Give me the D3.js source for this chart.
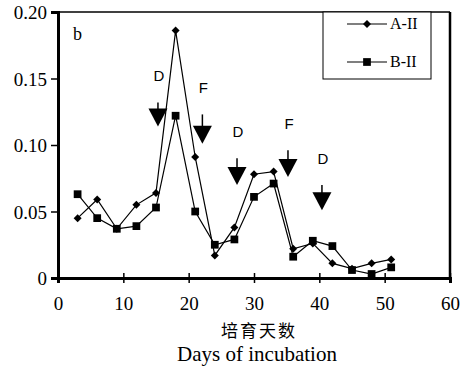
<!DOCTYPE html>
<html>
<head>
<meta charset="utf-8">
<script src="https://cdn.jsdelivr.net/npm/d3@7"></script>
<style>
  body { margin: 0; background: #fff; }
  svg { display: block; }
  .serif { font-family: "Liberation Serif", "DejaVu Serif", serif; }
</style>
</head>
<body>
<script>
// days of incubation
var days = [3, 6, 9, 12, 15, 18, 21, 24, 27, 30, 33, 36, 39, 42, 45, 48, 51];
var seriesA = [0.045, 0.059, 0.037, 0.055, 0.064, 0.186, 0.091, 0.017, 0.038, 0.078, 0.080, 0.022, 0.026, 0.011, 0.007, 0.011, 0.014];
var seriesB = [0.063, 0.045, 0.037, 0.039, 0.053, 0.122, 0.050, 0.025, 0.029, 0.061, 0.071, 0.016, 0.028, 0.024, 0.006, 0.003, 0.008];
var xTicks = [0, 10, 20, 30, 40, 50, 60];
var yTicks = [0, 0.05, 0.10, 0.15, 0.20];
var yTickLabels = ["0", "0.05", "0.10", "0.15", "0.20"];
// arrows: label, x, top, tip
var arrowLabels = ["D", "F", "D", "F", "D"];
var arrowX = [15.3, 22.1, 27.4, 35.2, 40.4];
var arrowTop = [0.132, 0.123, 0.090, 0.096, 0.070];
var arrowTip = [0.114, 0.101, 0.070, 0.076, 0.051];

var W = 464, H = 368;
var m = { left: 58, right: 14, top: 12, bottom: 90 };

var svg = d3.select("body").append("svg").attr("width", W).attr("height", H);

var x = d3.scaleLinear().domain([0, 60]).range([m.left, W - m.right]);
var y = d3.scaleLinear().domain([0, 0.2]).range([H - m.bottom, m.top]);

// frame
svg.append("line").attr("x1", x(0)).attr("x2", x(60)).attr("y1", y(0.2)).attr("y2", y(0.2))
   .attr("stroke", "#000").attr("stroke-width", 1.5);
svg.append("line").attr("x1", x(60)).attr("x2", x(60)).attr("y1", y(0.2)).attr("y2", y(0))
   .attr("stroke", "#000").attr("stroke-width", 2.5);

// axes
var yAxis = d3.axisLeft(y).tickValues(yTicks).tickSize(7).tickPadding(4)
  .tickFormat(function(d, i) { return yTickLabels[i]; });
var gy = svg.append("g").attr("transform", "translate(" + x(0) + ",0)").call(yAxis);

var xAxis = d3.axisBottom(x).tickValues(xTicks).tickSize(5).tickPadding(14)
  .tickFormat(d3.format("d"));
var gx = svg.append("g").attr("transform", "translate(0," + y(0) + ")").call(xAxis);
gx.selectAll(".tick line").attr("y1", -5);

[gx, gy].forEach(function(g) {
  g.select(".domain").attr("stroke-width", 3);
  g.selectAll(".tick line").attr("stroke-width", 1.5);
  g.selectAll("text").attr("class", "serif").attr("font-size", 19).attr("fill", "#000");
});
gy.selectAll("text").attr("dy", "0.36em");

// lines
var line = d3.line().x(function(d) { return x(d[0]); }).y(function(d) { return y(d[1]); });
var dataA = days.map(function(d, i) { return [d, seriesA[i]]; });
var dataB = days.map(function(d, i) { return [d, seriesB[i]]; });

svg.append("path").datum(dataB).attr("d", line).attr("fill", "none").attr("stroke", "#000").attr("stroke-width", 1.2);
svg.append("path").datum(dataA).attr("d", line).attr("fill", "none").attr("stroke", "#000").attr("stroke-width", 1.2);

var sq = d3.symbol().type(d3.symbolSquare).size(60);
var dia = d3.symbol().type(d3.symbolSquare).size(32);

svg.selectAll(".mb").data(dataB).enter().append("path").attr("class", "mb")
  .attr("d", sq).attr("transform", function(d) { return "translate(" + x(d[0]) + "," + y(d[1]) + ")"; });
svg.selectAll(".ma").data(dataA).enter().append("path").attr("class", "ma")
  .attr("d", dia).attr("transform", function(d) { return "translate(" + x(d[0]) + "," + y(d[1]) + ") rotate(45)"; });

// arrows
var arrows = svg.selectAll(".arrow").data(arrowX).enter().append("g").attr("class", "arrow");
arrows.append("line")
  .attr("x1", function(d) { return x(d); }).attr("x2", function(d) { return x(d); })
  .attr("y1", function(d, i) { return y(arrowTop[i]); })
  .attr("y2", function(d, i) { return y(arrowTip[i]) - 10; })
  .attr("stroke", "#000").attr("stroke-width", 1.5);
arrows.append("path")
  .attr("d", function(d, i) {
    var cx = x(d), ty = y(arrowTip[i]);
    return "M" + (cx - 9.5) + "," + (ty - 18) + "L" + (cx + 9.5) + "," + (ty - 18) + "L" + cx + "," + ty + "Z";
  }).attr("fill", "#000");
arrows.append("text")
  .attr("x", function(d) { return x(d) + 1; })
  .attr("y", function(d, i) { return y(arrowTop[i]) - 21; })
  .attr("text-anchor", "middle")
  .attr("font-family", "Liberation Sans, Arial, sans-serif")
  .attr("font-size", 15)
  .text(function(d, i) { return arrowLabels[i]; });

// panel letter
svg.append("text").attr("class", "serif").attr("x", 73).attr("y", 40).attr("font-size", 18).text("b");

// legend
var lg = svg.append("g");
lg.append("rect").attr("x", 323).attr("y", 12).attr("width", 108).attr("height", 67)
  .attr("fill", "#fff").attr("stroke", "#000").attr("stroke-width", 1);
var legendNames = ["A-II", "B-II"];
var legendSym = [dia, sq];
legendNames.forEach(function(name, i) {
  var ly = 24 + i * 38;
  lg.append("line").attr("x1", 347).attr("x2", 387).attr("y1", ly).attr("y2", ly).attr("stroke", "#000").attr("stroke-width", 1.2);
  lg.append("path").attr("d", legendSym[i])
    .attr("transform", "translate(367," + ly + ")" + (i === 0 ? " rotate(45)" : ""));
  lg.append("text").attr("class", "serif").attr("x", 390).attr("y", ly + 5).attr("font-size", 16).text(name);
});

// axis titles
svg.append("text").attr("x", 259).attr("y", 337).attr("text-anchor", "middle")
  .attr("font-family", "Noto Sans CJK SC").attr("font-size", 17).attr("letter-spacing", 2).text("培育天数");
svg.append("text").attr("class", "serif").attr("x", 257).attr("y", 361).attr("text-anchor", "middle")
  .attr("font-size", 21).text("Days of incubation");
</script>
</body>
</html>
